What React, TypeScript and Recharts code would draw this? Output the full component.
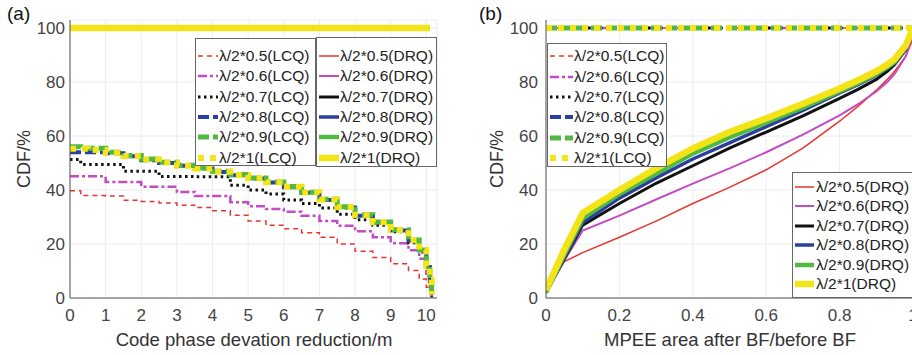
import React from "react";
import { LineChart, Line, XAxis, YAxis, CartesianGrid } from "recharts";

const FONT = '"Liberation Sans", Arial, Helvetica, sans-serif';

const scaleNames = ["λ/2*0.5", "λ/2*0.6", "λ/2*0.7", "λ/2*0.8", "λ/2*0.9", "λ/2*1"];
const colors = ["#e8352c", "#c24cc2", "#111111", "#2b3f9e", "#4fb944", "#f2e416"];

// line looks
const lcqWidths = [1.5, 2.5, 3, 4, 5, 6];
const lcqDash = ["5 4", "9 3 3 3", "2.5 3.5", "11 4", "11 4", "6 6"];
const drqWidths = [1.5, 2, 3, 3.5, 4.5, 6.5];

// (a) code phase deviation reduction
const leftX = [0, 0.3, 0.5, 1, 1.5, 2, 2.5, 3, 3.5, 4, 4.5, 5, 5.5, 6, 6.5, 7, 7.5, 8, 8.5, 9, 9.5, 9.8, 10, 10.1, 10.15];
const leftLcq05 = [39.7, 38, 38, 37.8, 36.2, 35.8, 35.2, 34.4, 33.5, 32.3, 30.7, 28.5, 27, 25.7, 24.2, 22.5, 20, 17.3, 15, 12.7, 10.2, 7, 4, 1.5, 0];
const leftLcq06 = [45.1, 45.1, 45.1, 43, 43, 41.2, 41.2, 39.3, 37.8, 37.8, 35.5, 34, 33, 32, 30.5, 28.5, 26.8, 24.7, 22.5, 20.3, 17.7, 14.5, 9, 4, 0];
const leftLcq07 = [51.3, 49.5, 49.5, 49.5, 47, 47, 45, 45, 44.9, 44.9, 41.8, 40, 38.5, 36.3, 35, 33.3, 31, 29, 27, 24.5, 20.5, 17, 11, 6, 0.5];
const leftLcq08 = [54, 54, 54, 53.6, 52.5, 51, 50, 49, 48, 46.7, 45.5, 44.3, 42.8, 41, 39, 36.3, 33.5, 30.5, 28, 25, 21.2, 17.5, 11.5, 6.5, 1];
const leftLcq09 = [56, 55.5, 55.5, 54, 52.8, 51.5, 50.3, 49.2, 48.2, 47, 45.8, 44.5, 43, 41.3, 39.2, 36.6, 33.8, 30.8, 28.2, 25.3, 21.5, 17.8, 12, 7, 1.5];
const leftLcq10 = [55.3, 55.3, 54.8, 53.8, 52.6, 51.3, 50.2, 49, 48, 46.8, 45.6, 44.4, 42.9, 41.2, 39.1, 36.5, 33.7, 30.7, 28.1, 25.2, 21.4, 17.7, 11.8, 6.8, 1.2];
const leftDrqX = [0, 10.1];
const leftDrqY = [100, 100];
const leftXTicks = [0, 1, 2, 3, 4, 5, 6, 7, 8, 9, 10];

// (b) MPEE area ratio
const rightX = [0, 0.05, 0.1, 0.2, 0.3, 0.4, 0.5, 0.6, 0.7, 0.8, 0.85, 0.9, 0.93, 0.95, 0.98, 1];
const rightDrq05 = [2.5, 13.5, 16.8, 22.5, 28.5, 35, 41, 47.5, 55.5, 65.5, 71, 77, 81, 84, 89.5, 96];
const rightDrq06 = [2.5, 14, 25, 30.5, 36.5, 42.4, 48, 54, 60.5, 67.7, 71.8, 76.5, 80, 83, 89.5, 97.5];
const rightDrq07 = [2, 14.5, 27, 35, 42.5, 49, 55.5, 61.5, 67.5, 74, 77.3, 81, 84, 86.5, 92, 98.5];
const rightDrq08 = [2, 15, 28, 37, 44.5, 51.5, 57.5, 63.5, 69.5, 76, 79, 82.5, 85, 87, 92.5, 99];
const rightDrq09 = [2, 16, 29.5, 38.5, 46, 53.5, 59.5, 65, 70.5, 76.5, 79.6, 83, 85.5, 87.5, 93, 99.5];
const rightDrq10 = [3, 18, 31.5, 40, 48, 55.4, 61.5, 66.5, 72, 77.6, 80.7, 84, 86.5, 88.5, 93.5, 100];
const rightLcqX = [0, 1];
const rightLcqY = [100, 100];
const rightXTicks = [0, 0.2, 0.4, 0.6, 0.8, 1];

const yTicks = [0, 20, 40, 60, 80, 100];

const pts = (xs: number[], ys: number[]) => xs.map((x, i) => ({ x, y: ys[i] }));

const leftLcq = [leftLcq05, leftLcq06, leftLcq07, leftLcq08, leftLcq09, leftLcq10].map((ys) => pts(leftX, ys));
const leftDrq = scaleNames.map(() => pts(leftDrqX, leftDrqY));
const rightLcq = scaleNames.map(() => pts(rightLcqX, rightLcqY));
const rightDrq = [rightDrq05, rightDrq06, rightDrq07, rightDrq08, rightDrq09, rightDrq10].map((ys) => pts(rightX, ys));

const tickStyle = { fill: "#444", fontSize: 17, fontFamily: FONT };
const axisStroke = { stroke: "#555", strokeWidth: 1 };

function LegendBox({ kind, left, top, width, height, padTop, rowH, sampleW, textGap }: any) {
  const lcq = kind === "LCQ";
  return (
    <div
      style={{
        position: "absolute",
        left,
        top,
        width,
        height,
        boxSizing: "border-box",
        border: "1px solid #666",
        background: "#fff",
        paddingTop: padTop,
        fontFamily: FONT,
        fontSize: 15.5,
        color: "#222",
      }}
    >
      {scaleNames.map((n, i) => (
        <div key={n} style={{ height: rowH, display: "flex", alignItems: "center", whiteSpace: "nowrap" }}>
          <svg width={sampleW} height={10} style={{ marginLeft: 2, marginRight: textGap }}>
            <line
              x1={0}
              y1={5}
              x2={sampleW}
              y2={5}
              stroke={colors[i]}
              strokeWidth={lcq ? lcqWidths[i] : drqWidths[i]}
              strokeDasharray={lcq ? lcqDash[i] : undefined}
            />
          </svg>
          <span>{n}({kind})</span>
        </div>
      ))}
    </div>
  );
}

const txt = (extra: any): any => ({ position: "absolute", fontFamily: FONT, color: "#333", whiteSpace: "nowrap", ...extra });

export default function App() {
  return (
    <div style={{ position: "absolute", left: 0, top: 0, width: 912, height: 355, overflow: "hidden", background: "#fff" }}>
      <div style={{ position: "absolute", left: 0, top: 0 }}>
        <LineChart width={445} height={355} margin={{ top: 20, right: 8, bottom: 0, left: 0 }}>
          <CartesianGrid stroke="#ececec" />
          <XAxis type="number" dataKey="x" domain={[0, 10.3]} ticks={leftXTicks} interval={0} height={57} tickSize={0} tickMargin={11} tick={tickStyle} axisLine={axisStroke} tickLine={false} allowDataOverflow />
          <YAxis type="number" domain={[0, 103]} ticks={yTicks} interval={0} width={70} tickSize={0} tickMargin={5} tick={tickStyle} axisLine={axisStroke} tickLine={false} allowDataOverflow />
          {leftLcq.map((d, i) => (
            <Line key={"la" + i} data={d} dataKey="y" type="stepAfter" stroke={colors[i]} strokeWidth={lcqWidths[i]} strokeDasharray={lcqDash[i]} dot={false} activeDot={false} isAnimationActive={false} />
          ))}
          {leftDrq.map((d, i) => (
            <Line key={"lb" + i} data={d} dataKey="y" type="linear" stroke={colors[i]} strokeWidth={drqWidths[i]} dot={false} activeDot={false} isAnimationActive={false} />
          ))}
        </LineChart>
      </div>
      <div style={{ position: "absolute", left: 456, top: 0 }}>
        <LineChart width={457} height={355} margin={{ top: 20, right: 0, bottom: 0, left: 0 }}>
          <CartesianGrid stroke="#ececec" />
          <XAxis type="number" dataKey="x" domain={[0, 1]} ticks={rightXTicks} interval={0} height={57} tickSize={0} tickMargin={11} tick={tickStyle} axisLine={axisStroke} tickLine={false} allowDataOverflow />
          <YAxis type="number" domain={[0, 103]} ticks={yTicks} interval={0} width={90} tickSize={0} tickMargin={8} tick={tickStyle} axisLine={axisStroke} tickLine={false} allowDataOverflow />
          {rightLcq.map((d, i) => (
            <Line key={"ra" + i} data={d} dataKey="y" type="linear" stroke={colors[i]} strokeWidth={lcqWidths[i]} strokeDasharray={lcqDash[i]} dot={false} activeDot={false} isAnimationActive={false} />
          ))}
          {rightDrq.map((d, i) => (
            <Line key={"rb" + i} data={d} dataKey="y" type="linear" stroke={colors[i]} strokeWidth={drqWidths[i]} dot={false} activeDot={false} isAnimationActive={false} />
          ))}
        </LineChart>
      </div>

      <div style={txt({ left: 7, top: 3, fontSize: 19, color: "#111" })}>(a)</div>
      <div style={txt({ left: 479, top: 3, fontSize: 19, color: "#111" })}>(b)</div>
      <div style={txt({ left: 24, top: 159, fontSize: 18, transform: "translate(-50%, -50%) rotate(-90deg)" })}>CDF/%</div>
      <div style={txt({ left: 497, top: 159, fontSize: 18, transform: "translate(-50%, -50%) rotate(-90deg)" })}>CDF/%</div>
      <div style={txt({ left: 254, top: 340, fontSize: 18.5, transform: "translate(-50%, -50%)" })}>Code phase devation reduction/m</div>
      <div style={txt({ left: 730, top: 340, fontSize: 18.5, transform: "translate(-50%, -50%)" })}>MPEE area after BF/before BF</div>

      <LegendBox kind="LCQ" left={195} top={38} width={121} height={128} padTop={7} rowH={20.3} sampleW={20} textGap={1} />
      <LegendBox kind="DRQ" left={316} top={37} width={121} height={130} padTop={8} rowH={20.3} sampleW={20} textGap={1} />
      <LegendBox kind="LCQ" left={547} top={43} width={120} height={124} padTop={2} rowH={20.4} sampleW={23} textGap={1} />
      <LegendBox kind="DRQ" left={792} top={172} width={140} height={126} padTop={4} rowH={19.5} sampleW={19} textGap={2} />
    </div>
  );
}
